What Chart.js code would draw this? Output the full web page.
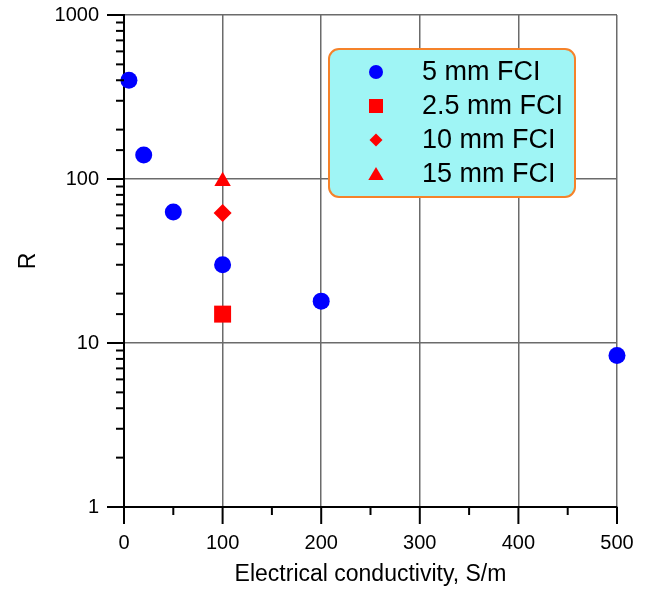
<!DOCTYPE html>
<html>
<head>
<meta charset="utf-8">
<script src="https://cdn.jsdelivr.net/npm/chart.js@4/dist/chart.umd.min.js"></script>
<style>
  html, body { margin: 0; padding: 0; background: #fff; }
  #wrap { width: 649px; height: 592px; }
</style>
</head>
<body>
<div id="wrap"><canvas id="rChart" width="649" height="592"></canvas></div>
<script>
// values
const seriesLabels = ['5 mm FCI', '2.5 mm FCI', '10 mm FCI', '15 mm FCI'];
const cond5 = [5, 20, 50, 100, 200, 500];
const r5 = [400, 140, 63, 30, 18, 8.4];
const cond25 = [100];
const r25 = [15];
const cond10 = [100];
const r10 = [62];
const cond15 = [100];
const r15 = [97];
const xTicks = [0, 100, 200, 300, 400, 500];
const yTicks = [1, 10, 100, 1000];

const FONT = "'Liberation Sans', Arial, sans-serif";
const toPts = (xs, ys) => xs.map((x, i) => ({ x: x, y: ys[i] }));
const isMajor = v => Math.abs(Math.log10(v) - Math.round(Math.log10(v))) < 1e-9;

// axis tick marks with different lengths for major and minor ticks
const tickMarks = {
  id: 'tickMarks',
  afterDraw(chart) {
    const c = chart.ctx, xs = chart.scales.x, ys = chart.scales.y;
    c.save();
    c.strokeStyle = '#000';
    c.lineWidth = 2;
    ys.ticks.forEach(t => {
      const py = ys.getPixelForValue(t.value);
      const len = isMajor(t.value) ? 17 : 8;
      c.beginPath(); c.moveTo(ys.right - len, py); c.lineTo(ys.right, py); c.stroke();
    });
    const xt = xs.ticks.map(t => t.value);
    xt.forEach((v, i) => {
      const px = xs.getPixelForValue(v);
      c.beginPath(); c.moveTo(px, xs.top); c.lineTo(px, xs.top + 17); c.stroke();
      if (i < xt.length - 1) {
        const pm = xs.getPixelForValue((v + xt[i + 1]) / 2);
        c.beginPath(); c.moveTo(pm, xs.top); c.lineTo(pm, xs.top + 8); c.stroke();
      }
    });
    c.restore();
  }
};

function marker(c, style, x, y, r, color) {
  c.fillStyle = color;
  c.beginPath();
  if (style === 'circle') {
    c.arc(x, y, r, 0, Math.PI * 2);
  } else if (style === 'rect') {
    c.rect(x - r, y - r, 2 * r, 2 * r);
  } else if (style === 'rectRot') {
    c.moveTo(x, y - r); c.lineTo(x + r, y); c.lineTo(x, y + r); c.lineTo(x - r, y); c.closePath();
  } else {
    c.moveTo(x, y - r); c.lineTo(x + r * 1.1, y + r * 0.85); c.lineTo(x - r * 1.1, y + r * 0.85); c.closePath();
  }
  c.fill();
}

// boxed legend inside the plot
const boxLegend = {
  id: 'boxLegend',
  afterDraw(chart) {
    const c = chart.ctx;
    const bx = 329, by = 49, bw = 246, bh = 148;
    c.save();
    c.fillStyle = '#9ff5f5';
    c.strokeStyle = '#f5822a';
    c.lineWidth = 2;
    c.beginPath();
    c.roundRect(bx, by, bw, bh, 10);
    c.fill(); c.stroke();
    const sizes = [7, 7, 6.5, 7];
    c.font = '27px ' + FONT;
    c.textBaseline = 'middle';
    chart.data.datasets.forEach((ds, i) => {
      const ry = 72 + i * 34;
      marker(c, ds.pointStyle, 376, ry, sizes[i], ds.backgroundColor);
      c.fillStyle = '#000';
      c.fillText(ds.label, 422, ry + 1);
    });
    c.restore();
  }
};

new Chart(document.getElementById('rChart').getContext('2d'), {
  type: 'scatter',
  data: {
    datasets: [
      { label: seriesLabels[0], data: toPts(cond5, r5), pointStyle: 'circle', pointRadius: 8.5,
        backgroundColor: '#0000ff', borderColor: '#0000ff', borderWidth: 0, clip: false },
      { label: seriesLabels[1], data: toPts(cond25, r25), pointStyle: 'rect', pointRadius: 12,
        backgroundColor: '#ff0000', borderColor: '#ff0000', borderWidth: 0, clip: false },
      { label: seriesLabels[2], data: toPts(cond10, r10), pointStyle: 'rectRot', pointRadius: 9,
        backgroundColor: '#ff0000', borderColor: '#ff0000', borderWidth: 0, clip: false },
      { label: seriesLabels[3], data: toPts(cond15, r15), pointStyle: 'triangle', pointRadius: 9.5,
        backgroundColor: '#ff0000', borderColor: '#ff0000', borderWidth: 0, clip: false }
    ]
  },
  options: {
    responsive: false,
    animation: false,
    layout: { padding: { left: 11, top: 15, right: 32, bottom: 0 } },
    plugins: { legend: { display: false }, tooltip: { enabled: false } },
    scales: {
      x: {
        type: 'linear', min: 0, max: 500,
        afterBuildTicks: s => { s.ticks = xTicks.map(v => ({ value: v })); },
        afterFit: s => { s.height = 85; s.paddingLeft = 0; s.paddingRight = 0; },
        ticks: { padding: 24, color: '#000', font: { family: FONT, size: 20 } },
        grid: { drawTicks: false, lineWidth: 1.5,
                color: ctx => ctx.tick && ctx.tick.value === 0 ? 'rgba(0,0,0,0)' : '#6b6b6b' },
        border: { color: '#000', width: 2 },
        title: { display: true, text: 'Electrical conductivity, S/m', color: '#000',
                 font: { family: FONT, size: 23 } }
      },
      y: {
        type: 'logarithmic', min: yTicks[0], max: yTicks[yTicks.length - 1],
        afterFit: s => { s.width = 113; s.paddingTop = 0; s.paddingBottom = 0; },
        ticks: { padding: 25, color: '#000', autoSkip: false, font: { family: FONT, size: 20 },
                 callback: v => (yTicks.includes(v) ? String(v) : '') },
        grid: { drawTicks: false, lineWidth: 1.5,
                color: ctx => ctx.tick && isMajor(ctx.tick.value) && ctx.tick.value !== 1 ? '#6b6b6b' : 'rgba(0,0,0,0)' },
        border: { color: '#000', width: 2 },
        title: { display: true, text: 'R', color: '#000', font: { family: FONT, size: 23 } }
      }
    }
  },
  plugins: [tickMarks, boxLegend]
});
</script>
</body>
</html>
